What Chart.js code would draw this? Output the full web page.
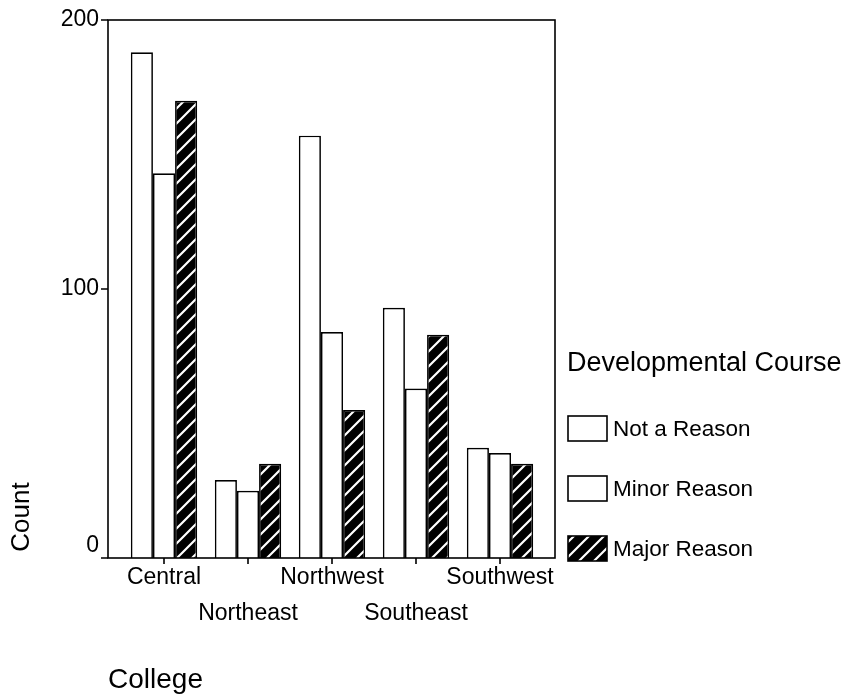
<!DOCTYPE html>
<html lang="en">
<head>
  <meta charset="UTF-8">
  <title>Developmental Course by College</title>
  <script src="https://cdn.jsdelivr.net/npm/chart.js"></script>
  <style>
    body { margin: 0; background: #fff; }
  </style>
</head>
<body>
  <canvas id="collegeChart" width="855" height="700"></canvas>

  <script>
    // data
    const colleges = ['Central', 'Northeast', 'Northwest', 'Southeast', 'Southwest'];
    const notReason = [188, 29, 157, 93, 41];
    const minorReason = [143, 25, 84, 63, 39];
    const majorReason = [170, 35, 55, 83, 35];
    const seriesNames = ['Not a Reason', 'Minor Reason', 'Major Reason'];
    const yTicks = [0, 100, 200];

    Chart.defaults.font.family = '"Liberation Sans", Arial, sans-serif';
    Chart.defaults.color = '#000';

    // black with white "/" stripes
    function stripes() {
      const c = document.createElement('canvas');
      c.width = 15; c.height = 15;
      const g = c.getContext('2d');
      g.fillStyle = '#000';
      g.fillRect(0, 0, 15, 15);
      g.strokeStyle = '#fff';
      g.lineWidth = 2.2;
      g.beginPath();
      g.moveTo(-2, 17); g.lineTo(17, -2);
      g.moveTo(-2, 2); g.lineTo(2, -2);
      g.moveTo(13, 17); g.lineTo(17, 13);
      g.stroke();
      return g.createPattern(c, 'repeat');
    }
    const hatch = stripes();
    const fills = ['#fff', '#fff', hatch];

    // x labels on two staggered rows
    const xLabels = colleges.map((c, i) => i % 2 === 0 ? [c, ''] : ['', c]);

    // frame, tick marks, axis titles and legend
    const decor = {
      id: 'decor',
      afterDraw(chart) {
        const ctx = chart.ctx;
        const a = chart.chartArea;
        const x = chart.scales.x, y = chart.scales.y;
        const L = 108, R = 555;
        ctx.save();
        ctx.strokeStyle = '#000';
        ctx.lineWidth = 1.6;
        ctx.strokeRect(L, a.top, R - L, a.bottom - a.top);
        ctx.beginPath();
        yTicks.forEach(v => {
          const py = y.getPixelForValue(v);
          ctx.moveTo(101, py); ctx.lineTo(L, py);
        });
        colleges.forEach((c, i) => {
          const px = x.getPixelForValue(i);
          ctx.moveTo(px, a.bottom); ctx.lineTo(px, a.bottom + 6);
        });
        ctx.stroke();

        ctx.fillStyle = '#000';
        ctx.textBaseline = 'middle';
        ctx.font = '26px "Liberation Sans", Arial, sans-serif';
        ctx.save();
        ctx.translate(22, 517);
        ctx.rotate(-Math.PI / 2);
        ctx.textAlign = 'center';
        ctx.fillText('Count', 0, 0);
        ctx.restore();
        ctx.textAlign = 'left';
        ctx.font = '28px "Liberation Sans", Arial, sans-serif';
        ctx.fillText('College', 108, 680);

        // legend
        ctx.font = '27px "Liberation Sans", Arial, sans-serif';
        ctx.fillText('Developmental Course', 567, 364);
        ctx.font = '22.5px "Liberation Sans", Arial, sans-serif';
        seriesNames.forEach((name, i) => {
          const cy = 430 + i * 60;
          ctx.fillStyle = fills[i];
          ctx.fillRect(568, cy - 14, 39, 25);
          ctx.strokeRect(568, cy - 14, 39, 25);
          ctx.fillStyle = '#000';
          ctx.fillText(name, 613, cy);
        });
        ctx.restore();
      }
    };

    const ctx = document.getElementById('collegeChart').getContext('2d');
    new Chart(ctx, {
      type: 'bar',
      data: {
        labels: xLabels,
        datasets: [notReason, minorReason, majorReason].map((d, i) => ({
          label: seriesNames[i],
          data: d,
          backgroundColor: fills[i],
          borderColor: '#000',
          borderWidth: 1.7,
          categoryPercentage: 0.79,
          barPercentage: 1.0
        }))
      },
      options: {
        responsive: false,
        animation: false,
        layout: { padding: { left: 0, top: 20, right: 313, bottom: 0 } },
        plugins: {
          legend: { display: false },
          tooltip: { enabled: false }
        },
        scales: {
          x: {
            grid: { display: false, drawTicks: false },
            border: { display: false },
            ticks: {
              font: { size: 23, lineHeight: 36 / 23 },
              padding: 2,
              maxRotation: 0,
              autoSkip: false
            },
            afterFit: s => { s.height = 142; }
          },
          y: {
            min: 0,
            max: 200,
            grid: { display: false, drawTicks: false },
            border: { display: false },
            ticks: {
              stepSize: 100,
              padding: 23,
              font: { size: 23, lineHeight: 1.1 },
              // keep the 0 above the axis line as in the picture
              callback: v => v === 0 ? ['0', ''] : String(v)
            },
            afterFit: s => {
              s.width = 122;
              s.paddingTop = 0;
              s.paddingBottom = 0;
            }
          }
        }
      },
      plugins: [decor]
    });
  </script>
</body>
</html>
